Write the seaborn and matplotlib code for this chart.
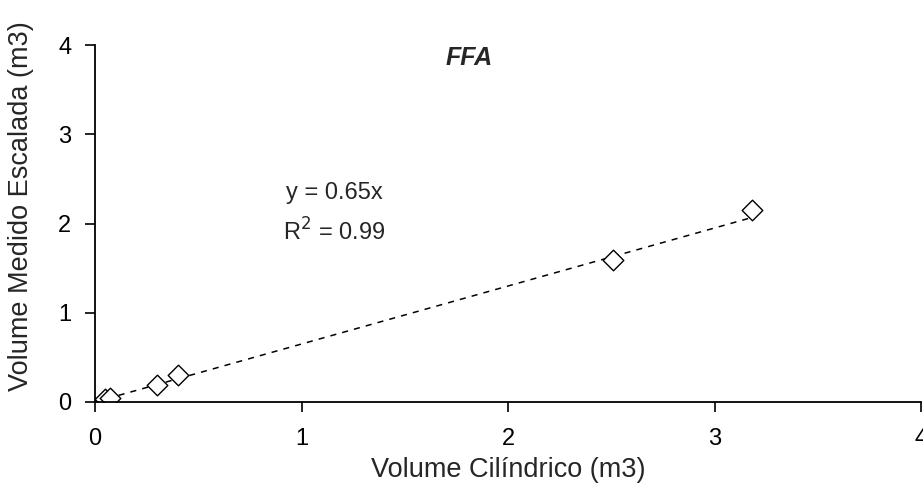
import matplotlib
matplotlib.use("Agg")
import matplotlib.pyplot as plt
import seaborn as sns
import numpy as np
import pandas as pd

x_vals = [0.05, 0.07, 0.30, 0.40, 2.51, 3.18]
y_vals = [0.03, 0.05, 0.19, 0.30, 1.59, 2.15]
slope = 0.65
ticks = [0, 1, 2, 3, 4]

sns.set_style("white")
plt.rcParams['font.family'] = ['Liberation Sans', 'DejaVu Sans']

df = pd.DataFrame({"x": x_vals, "y": y_vals})
fig = plt.figure(figsize=(9.23, 5.03), dpi=100)
ax = fig.add_axes([0.103, 0.2008, 0.895, 0.7097])

xl = np.array([0, max(x_vals)])
ax.plot(xl, slope * xl, linestyle=(0, (4, 4)), color="black", linewidth=1.1, zorder=1)
sns.scatterplot(data=df, x="x", y="y", marker="D", s=110, facecolor="white",
                edgecolor="black", linewidth=1.0, ax=ax, zorder=2)

ax.set_xlim(0, 4)
ax.set_ylim(0, 4)
ax.set_xticks(ticks)
ax.set_yticks(ticks)
ax.tick_params(axis="both", labelsize=17, direction="out", length=7, width=1.2,
               colors="black", bottom=True, left=True)
ax.tick_params(axis="x", pad=12)
ax.tick_params(axis="y", pad=10)
for s in ["top", "right"]:
    ax.spines[s].set_visible(False)
for s in ["left", "bottom"]:
    ax.spines[s].set_color("black")
    ax.spines[s].set_linewidth(1.3)

ax.set_xlabel("Volume Cilíndrico (m3)", fontsize=19.5)
ax.set_ylabel("Volume Medido Escalada (m3)", fontsize=19.5)
ax.xaxis.set_label_coords(0.5, -0.155)
ax.yaxis.set_label_coords(-0.074, 0.55)
ax.text(1.81, 3.86, "FFA", fontsize=18, fontweight="bold", fontstyle="italic", ha="center", va="center")
ax.text(1.16, 2.34, "y = 0.65x", fontsize=17, ha="center", va="center")
ax.text(1.16, 1.90, "R$^2$ = 0.99", fontsize=17, ha="center", va="center")

fig.savefig("out.png", dpi=100, facecolor="white")
